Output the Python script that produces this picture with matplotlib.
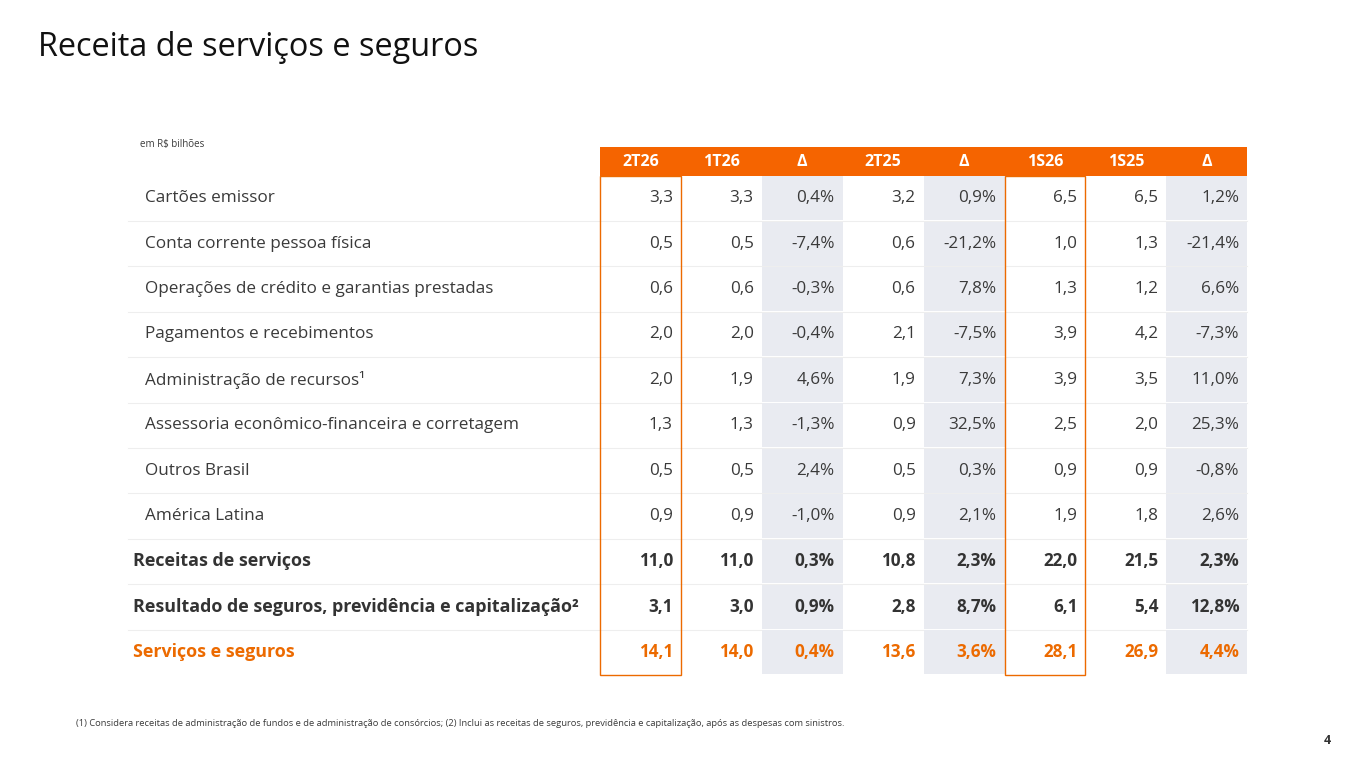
import matplotlib
matplotlib.use("Agg")
import matplotlib.pyplot as plt
from matplotlib.patches import Rectangle

plt.rcParams['font.family'] = ['Open Sans', 'DejaVu Sans']

# ---- data ----
title = "Receita de serviços e seguros"
unit_note = "em R$ bilhões"
columns = ["2T26", "1T26", "Δ", "2T25", "Δ", "1S26", "1S25", "Δ"]
row_labels = [
    "Cartões emissor",
    "Conta corrente pessoa física",
    "Operações de crédito e garantias prestadas",
    "Pagamentos e recebimentos",
    "Administração de recursos¹",
    "Assessoria econômico-financeira e corretagem",
    "Outros Brasil",
    "América Latina",
    "Receitas de serviços",
    "Resultado de seguros, previdência e capitalização²",
    "Serviços e seguros",
]
v_2t26 = ["3,3", "0,5", "0,6", "2,0", "2,0", "1,3", "0,5", "0,9", "11,0", "3,1", "14,1"]
v_1t26 = ["3,3", "0,5", "0,6", "2,0", "1,9", "1,3", "0,5", "0,9", "11,0", "3,0", "14,0"]
d_q    = ["0,4%", "-7,4%", "-0,3%", "-0,4%", "4,6%", "-1,3%", "2,4%", "-1,0%", "0,3%", "0,9%", "0,4%"]
v_2t25 = ["3,2", "0,6", "0,6", "2,1", "1,9", "0,9", "0,5", "0,9", "10,8", "2,8", "13,6"]
d_y    = ["0,9%", "-21,2%", "7,8%", "-7,5%", "7,3%", "32,5%", "0,3%", "2,1%", "2,3%", "8,7%", "3,6%"]
v_1s26 = ["6,5", "1,0", "1,3", "3,9", "3,9", "2,5", "0,9", "1,9", "22,0", "6,1", "28,1"]
v_1s25 = ["6,5", "1,3", "1,2", "4,2", "3,5", "2,0", "0,9", "1,8", "21,5", "5,4", "26,9"]
d_s    = ["1,2%", "-21,4%", "6,6%", "-7,3%", "11,0%", "25,3%", "-0,8%", "2,6%", "2,3%", "12,8%", "4,4%"]
row_style = ["normal"] * 8 + ["bold", "bold", "total"]
footnote = ("(1) Considera receitas de administração de fundos e de administração de consórcios; "
            "(2) Inclui as receitas de seguros, previdência e capitalização, após as despesas com sinistros.")
page_no = "4"

col_values = [v_2t26, v_1t26, d_q, v_2t25, d_y, v_1s26, v_1s25, d_s]
delta_cols = [2, 4, 7]
boxed_cols = [0, 5]

# ---- style ----
ORANGE = "#EC6A00"
HEADER = "#F56400"
TEXT = "#3a3a3a"
GRAY = "#E9EBF1"
SEP = "#EEEEEE"

W, H = 1365, 768
fig = plt.figure(figsize=(W / 100, H / 100), dpi=100)
ax = fig.add_axes([0, 0, 1, 1])
ax.set_xlim(0, W)
ax.set_ylim(H, 0)
ax.axis("off")

x0_table = 600
col_w = 80.9
left_sep = 128
hdr_top, hdr_bot = 147, 175.5
row_h = 45.4
n_rows = len(row_labels)
table_bot = hdr_bot + n_rows * row_h

# title
ax.text(38, 48, title, fontsize=23.4, color="#111111", va="center", ha="left")
ax.text(140, 145, unit_note, fontsize=7, color=TEXT, va="center", ha="left")

# gray delta columns (cells with white gaps)
for c in delta_cols:
    for r in range(n_rows):
        y = hdr_bot + r * row_h
        ax.add_patch(Rectangle((x0_table + c * col_w, y + 0.8), col_w, row_h - 1.6,
                               facecolor=GRAY, edgecolor="none", zorder=1))

# separator lines
for r in range(1, n_rows):
    y = hdr_bot + r * row_h
    ax.plot([left_sep, x0_table + 8 * col_w], [y, y], color=SEP, lw=0.8, zorder=0.5)

# header band
ax.add_patch(Rectangle((x0_table, hdr_top), 8 * col_w, hdr_bot - hdr_top,
                       facecolor=HEADER, edgecolor="none", zorder=2))
for c, name in enumerate(columns):
    ax.text(x0_table + (c + 0.5) * col_w, (hdr_top + hdr_bot) / 2 + 1, name,
            fontsize=11.5, fontweight="bold", color="white", ha="center", va="center", zorder=3)

# boxed columns
for c in boxed_cols:
    ax.add_patch(Rectangle((x0_table + c * col_w, hdr_bot), col_w, table_bot - hdr_bot,
                           facecolor="none", edgecolor=ORANGE, lw=1.0, zorder=3))

# rows
for r, label in enumerate(row_labels):
    yc = hdr_bot + (r + 0.5) * row_h
    st = row_style[r]
    if st == "normal":
        lx, fw, colr, lfs = 145, "normal", TEXT, 12.3
    elif st == "bold":
        lx, fw, colr, lfs = 133, "bold", "#333333", 12.9
    else:
        lx, fw, colr, lfs = 133, "bold", ORANGE, 12.9
    ax.text(lx, yc, label, fontsize=lfs, fontweight=fw, color=colr,
            ha="left", va="center", zorder=4)
    for c, vals in enumerate(col_values):
        ax.text(x0_table + (c + 1) * col_w - 8, yc, vals[r], fontsize=12.3, fontweight=fw,
                color=colr, ha="right", va="center", zorder=4)

ax.text(76, 723, footnote, fontsize=6.75, color=TEXT, ha="left", va="center")
ax.text(1331, 741, page_no, fontsize=9, fontweight="bold", color="#333333", ha="right", va="center")

fig.savefig("out.png", dpi=100, facecolor="white")
